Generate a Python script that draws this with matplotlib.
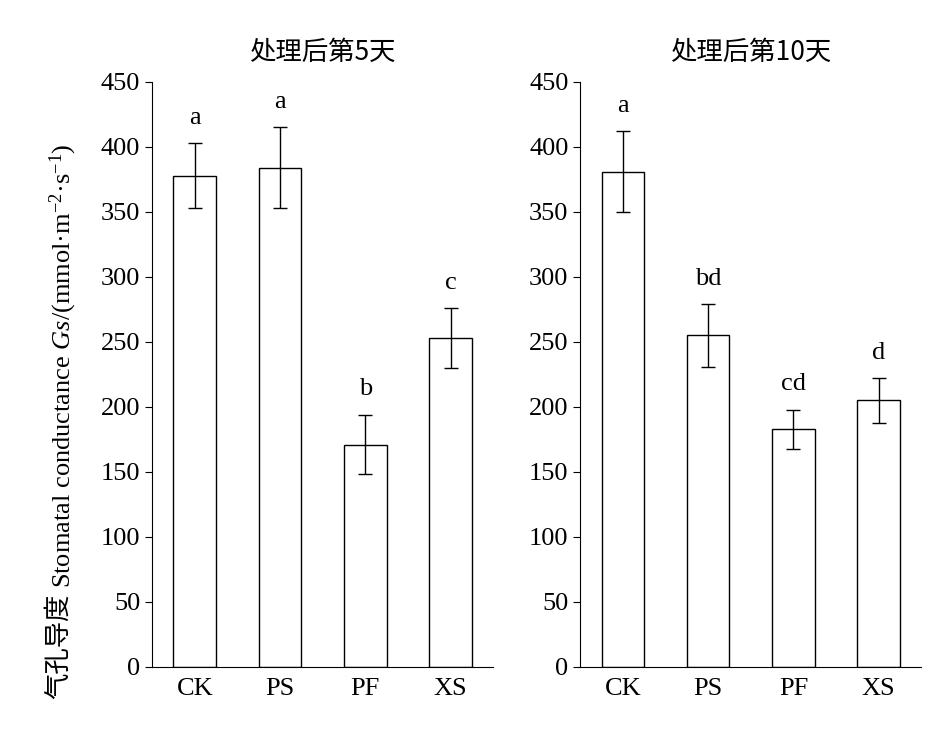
import matplotlib
matplotlib.use("Agg")
import matplotlib.pyplot as plt
from matplotlib import font_manager

plt.rcParams['font.family'] = 'Liberation Serif'
plt.rcParams['mathtext.fontset'] = 'custom'
plt.rcParams['mathtext.rm'] = 'Liberation Serif'
plt.rcParams['mathtext.it'] = 'Liberation Serif:italic'
_names = sorted({f.name for f in font_manager.fontManager.ttflist if 'CJK' in f.name})
CJK = next((n for n in ['Noto Sans CJK SC', 'Noto Serif CJK SC', 'Noto Sans CJK JP'] if n in _names),
           _names[0] if _names else 'DejaVu Sans')

categories = ['CK', 'PS', 'PF', 'XS']
titles = ['处理后第5天', '处理后第10天']
day5 = [378, 384, 171, 253]
day5_err = [25, 31, 23, 23]
day5_letters = ['a', 'a', 'b', 'c']
day10 = [381, 255, 183, 205]
day10_err = [31, 24, 15, 17]
day10_letters = ['a', 'bd', 'cd', 'd']
yticks = list(range(0, 451, 50))

fig = plt.figure(figsize=(9.45, 7.32), dpi=100)
axes = [fig.add_axes([0.161, 0.089, 0.361, 0.799]),
        fig.add_axes([0.614, 0.089, 0.361, 0.799])]
for ax, vals, errs, lets, title in zip(axes, [day5, day10], [day5_err, day10_err],
                                       [day5_letters, day10_letters], titles):
    x = range(len(categories))
    ax.bar(x, vals, width=0.5, color='white', edgecolor='black', linewidth=1.0)
    ax.errorbar(x, vals, yerr=errs, fmt='none', ecolor='black', elinewidth=1.0, capsize=5, capthick=1.0)
    for xi, v, e, l in zip(x, vals, errs, lets):
        ax.text(xi, v + e + 11, l, ha='center', va='bottom', fontsize=19)
    ax.set_xlim(-0.5, 3.5)
    ax.set_ylim(0, 450)
    ax.set_yticks(yticks)
    ax.set_xticks(list(x))
    ax.set_xticklabels(categories, fontsize=19)
    ax.tick_params(axis='y', labelsize=19, direction='out', length=5)
    ax.tick_params(axis='x', length=0, pad=8)
    for s in ['top', 'right']:
        ax.spines[s].set_visible(False)
    ax.set_title(title, fontsize=19, pad=16, fontfamily=CJK)

t1 = fig.text(0.062, 0.045, '气孔导度', rotation=90, fontsize=19, fontfamily=CJK,
              ha='center', va='bottom')
fig.canvas.draw()
bb = t1.get_window_extent(fig.canvas.get_renderer())
ytop = bb.y1 / fig.bbox.height
fig.text(0.067, ytop + 0.008, 'Stomatal conductance $\\mathit{Gs}$/(mmol·m$^{-2}$·s$^{-1}$)',
         rotation=90, fontsize=19, ha='center', va='bottom')
fig.savefig('out.png', dpi=100)
